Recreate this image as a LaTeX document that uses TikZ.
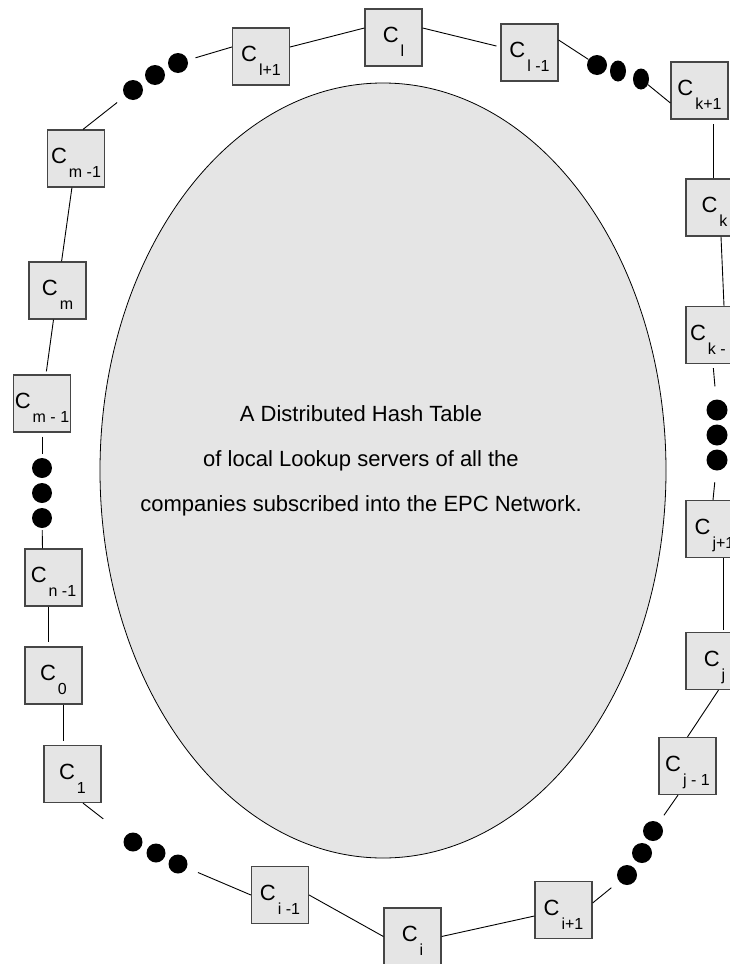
\documentclass[tikz,border=0pt]{standalone}
\usepackage{fontspec}
\setmainfont{Liberation Sans}
\usetikzlibrary{shapes.geometric}
\definecolor{boxgray}{RGB}{229,229,229}
\definecolor{boxline}{RGB}{70,70,70}
\newcommand{\srvname}[1]{C\kern2pt\raisebox{-14pt}{\fontsize{16}{16}\selectfont #1}}

\begin{document}
\begin{tikzpicture}[x=1pt,y=-1pt,
  srv/.style={draw=boxline, fill=boxgray, line width=1.2pt, minimum size=57pt, inner sep=0pt,
    text height=24pt, text depth=14pt, font=\fontsize{22}{22}\selectfont},
  dot/.style={circle, fill=black, inner sep=0pt, minimum size=20pt},
  ndot/.style={ellipse, fill=black, inner sep=0pt, minimum width=16pt, minimum height=21pt},
  link/.style={line width=0.9pt}]
\useasboundingbox (0,0) rectangle (730,964);
\clip (0,0) rectangle (730,964);
% the hash table
\node[ellipse, draw, fill=boxgray, line width=0.8pt, minimum width=566pt, minimum height=775pt, inner sep=0pt] (dht) at (383,470.5) {};
\node[align=center, font=\fontsize{22}{45}\selectfont] (dhttext) at (361,461)
  {A Distributed Hash Table\\of local Lookup servers of all the\\companies subscribed into the EPC Network.};
% the servers
\node[srv] (cl) at (393.5,37.5) {\srvname{l}};
\node[srv] (clp) at (261,56.5) {\srvname{l+1}};
\node[srv] (clm) at (529.5,52.5) {\srvname{l -1}};
\node[srv] (ckp) at (699.5,90.5) {\srvname{k+1}};
\node[srv] (ck) at (714.5,207.5) {\srvname{k}};
\node[srv] (ckm) at (714.5,335) {\srvname{k - 1}};
\node[srv] (cjp) at (714.5,529) {\srvname{j+1}};
\node[srv] (cj) at (714.5,661) {\srvname{j}};
\node[srv] (cjm) at (687.5,766) {\srvname{j - 1}};
\node[srv] (cip) at (563.5,910) {\srvname{i+1}};
\node[srv] (ci) at (412.5,936.5) {\srvname{i}};
\node[srv] (cim) at (280,895) {\srvname{i -1}};
\node[srv] (c1) at (72.5,774) {\srvname{1}};
\node[srv] (c0) at (53.5,675.5) {\srvname{0}};
\node[srv] (cn) at (53.5,577.5) {\srvname{n -1}};
\node[srv] (cmb) at (42,403.5) {\srvname{m - 1}};
\node[srv] (cm) at (57.5,290.5) {\srvname{m}};
\node[srv] (cmt) at (76,158.5) {\srvname{m -1}};
% the dots
\node[dot] (tl1) at (133,90) {};
\node[dot] (tl2) at (155,75) {};
\node[dot] (tl3) at (178,63) {};
\node[dot] (tr1) at (597,65) {};
\node[ndot] (tr2) at (618,71) {};
\node[ndot] (tr3) at (641,79) {};
\node[dot, minimum size=21pt] (rv1) at (717,410) {};
\node[dot, minimum size=21pt] (rv2) at (717,435) {};
\node[dot, minimum size=21pt] (rv3) at (717,460) {};
\node[dot] (br1) at (653,831) {};
\node[dot] (br2) at (642,853) {};
\node[dot] (br3) at (627,875) {};
\node[dot, minimum size=19pt] (bl1) at (133,842) {};
\node[dot, minimum size=19pt] (bl2) at (156,853) {};
\node[dot, minimum size=19pt] (bl3) at (178,864) {};
\node[dot] (lv1) at (42,468) {};
\node[dot] (lv2) at (42,493) {};
\node[dot] (lv3) at (42,518) {};
% the ring
\draw[link] ([yshift=9.5pt]cl.west) -- ([yshift=9.5pt]clp.east);
\draw[link, shorten >=8pt] ([yshift=9.5pt]clp.west) -- (tl3);
\draw[link, shorten <=10pt] (tl1) -- ([xshift=7pt]cmt.north);
\draw[link] (cmt) -- (cm);
\draw[link, shorten >=3pt] (cm) -- (cmb);
\draw[link, shorten <=4pt, shorten >=4pt] (cmb) -- (lv1);
\draw[link, shorten <=2pt] (lv3) -- ([xshift=-11pt]cn.north);
\draw[link, shorten >=4pt] ([xshift=-5.5pt]cn.south) -- ([xshift=-5.5pt]c0.north);
\draw[link, shorten >=4pt] ([xshift=9.5pt]c0.south) -- ([xshift=-9.5pt]c1.north);
\draw[link, shorten >=28pt] ([xshift=10.5pt]c1.south) -- (bl1);
\draw[link, shorten <=12pt] (bl3) -- (cim.west);
\draw[link] (cim.east) -- (ci.west);
\draw[link] (ci.east) -- ([yshift=-6pt]cip.west);
\draw[link, shorten >=10pt] ([yshift=7pt]cip.east) -- (br3);
\draw[link, shorten <=9pt] (br1) -- ([xshift=-9.5pt]cjm.south);
\draw[link] (cjm.north) -- ([xshift=4pt]cj.south);
\draw[link, shorten >=2pt] ([xshift=8.5pt]cjp.south) -- ([xshift=8.5pt]cj.north);
\draw[link, shorten <=11.5pt] (rv3) -- ([xshift=-1.5pt]cjp.north);
\draw[link, shorten <=4pt, shorten >=13pt] ([xshift=-1.5pt]ckm.south) -- (rv1);
\draw[link] ([xshift=9.5pt]ckm.north) -- ([xshift=6.5pt]ck.south);
\draw[link, shorten >=4pt] ([xshift=-1.5pt]ck.north) -- ([xshift=13.5pt]ckp.south);
\draw[link] ([yshift=-12.5pt]ckp.west) -- (tr3);
\draw[link] (tr1) -- ([yshift=12.5pt]clm.east);
\draw[link, shorten >=4pt] ([yshift=9.5pt]cl.east) -- ([yshift=5.5pt]clm.west);
\end{tikzpicture}
\end{document}
